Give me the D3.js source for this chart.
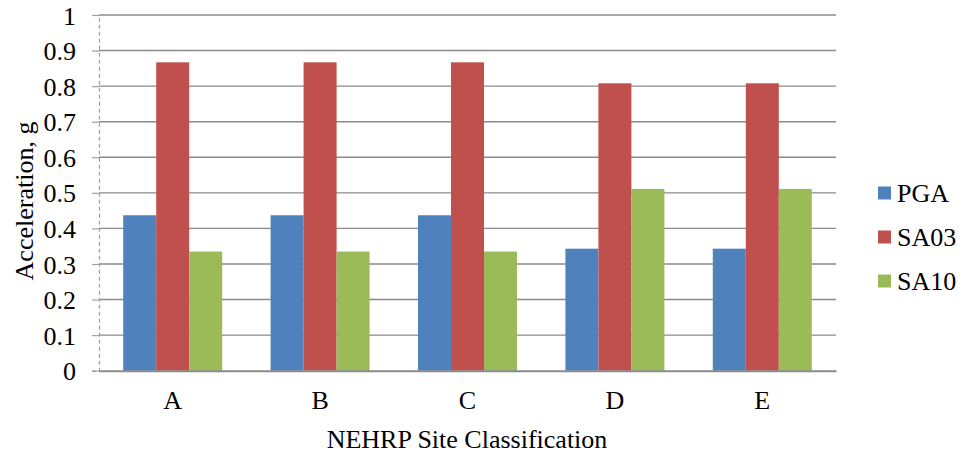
<!DOCTYPE html>
<html><head><meta charset="utf-8">
<script src="https://cdn.jsdelivr.net/npm/d3@7"></script>
<style>body{margin:0;background:#fff}</style>
</head><body><svg id="c" width="961" height="455"></svg>
<script>
const categories = ["A","B","C","D","E"];
const seriesNames = ["PGA","SA03","SA10"];
const PGA  = [0.437,0.437,0.437,0.343,0.343];
const SA03 = [0.867,0.867,0.867,0.808,0.808];
const SA10 = [0.335,0.335,0.335,0.511,0.511];
const yTicks = [0,0.1,0.2,0.3,0.4,0.5,0.6,0.7,0.8,0.9,1];
const colors = ["#4f81bd","#c0504d","#9bbb59"];
const seriesVals = [PGA, SA03, SA10];
const FS = 26;
const FF = "Liberation Serif";

const svg = d3.select("#c");
const L = 99, R = 836, T = 15, B = 370.7;
const x = d3.scaleBand().domain(categories).range([L, R]).paddingInner(0).paddingOuter(0);
const y = d3.scaleLinear().domain([0,1]).range([B, T]);
const xs = d3.scaleBand().domain(seriesNames).range([0, 99]);

// gridlines
svg.append("g").selectAll("line").data(yTicks.filter(d=>d>0)).join("line")
  .attr("x1", L).attr("x2", R).attr("y1", d=>y(d)).attr("y2", d=>y(d))
  .attr("stroke", "#8a8a8a").attr("stroke-width", 1.4);

// y axis
const ya = svg.append("g").attr("transform", `translate(${L},0)`)
  .call(d3.axisLeft(y).tickValues(yTicks).tickFormat(d3.format("")).tickSize(7).tickPadding(16));
ya.attr("font-family", FF).attr("font-size", FS);
ya.select(".domain").attr("stroke", "#a0a0a0").attr("stroke-dasharray", "4,3").attr("stroke-width", 1.2);
ya.selectAll(".tick line").attr("stroke", "#a0a0a0").attr("stroke-width", 1.2);
ya.selectAll(".tick text").attr("dy", "0.35em").attr("fill", "#000");

// bars
seriesNames.forEach((s, si) => {
  svg.append("g").selectAll("rect").data(categories).join("rect")
    .attr("x", c => x(c) + (x.bandwidth() - 99) / 2 + xs(s))
    .attr("width", xs.bandwidth())
    .attr("y", (c, i) => y(seriesVals[si][i]))
    .attr("height", (c, i) => B - y(seriesVals[si][i]))
    .attr("fill", colors[si]);
});

// x axis
const xa = svg.append("g").attr("transform", `translate(0,${B})`)
  .call(d3.axisBottom(x).tickSize(0).tickPadding(0));
xa.attr("font-family", FF).attr("font-size", FS);
xa.select(".domain").attr("stroke", "#8a8a8a").attr("stroke-width", 2);
xa.selectAll(".tick text").attr("dy", null).attr("y", 409 - B).attr("fill", "#000");

// axis titles
svg.append("text").attr("x", 467).attr("y", 448).attr("text-anchor", "middle")
  .attr("font-family", FF).attr("font-size", FS).text("NEHRP Site Classification");
svg.append("text").attr("transform", "translate(33,201) rotate(-90)").attr("text-anchor", "middle")
  .attr("font-family", FF).attr("font-size", FS).text("Acceleration, g");

// legend
const lg = svg.append("g");
seriesNames.forEach((s, i) => {
  const cy = 193 + i * 44;
  lg.append("rect").attr("x", 878).attr("y", cy - 6.5).attr("width", 13).attr("height", 13).attr("fill", colors[i]);
  lg.append("text").attr("x", 897).attr("y", cy + 9).attr("font-family", FF).attr("font-size", FS).text(s);
});
</script></body></html>
